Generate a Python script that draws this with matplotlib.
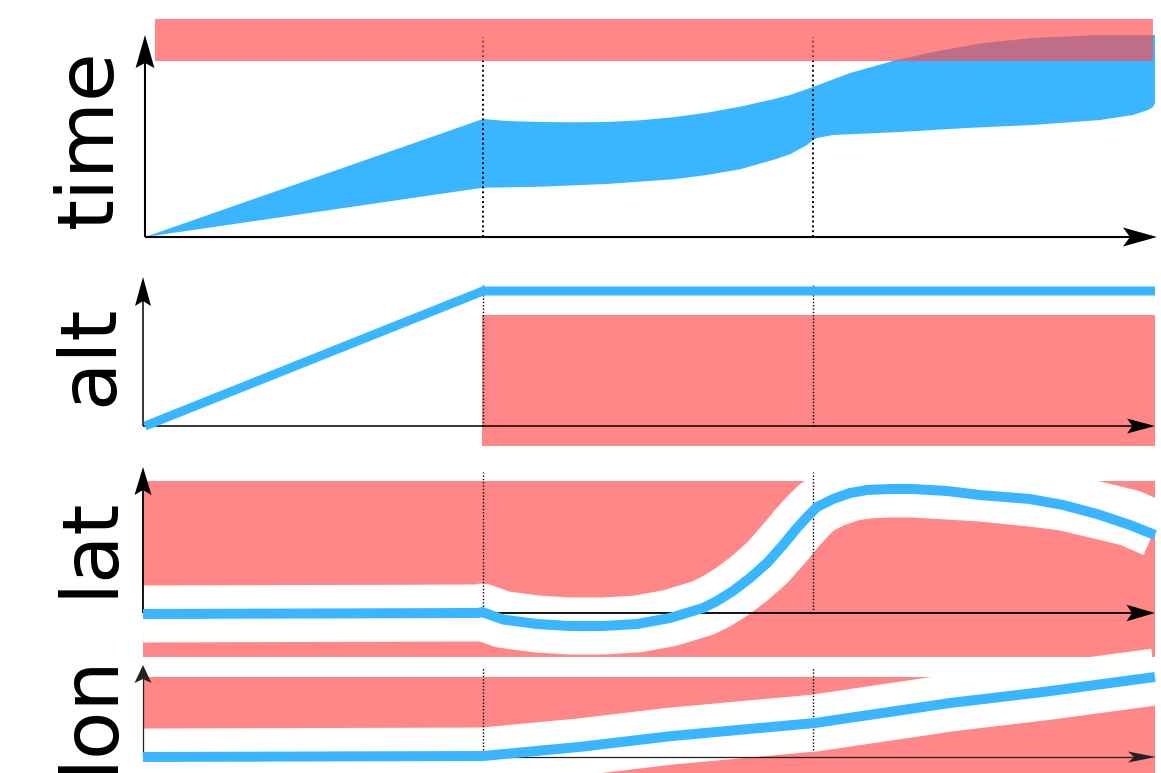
import numpy as np
import matplotlib
matplotlib.use('Agg')
import matplotlib.pyplot as plt
from matplotlib.patches import Polygon, Rectangle

# ---------------- data (track position t, panel value y) ----------------
checkpoints = [339, 669]

# time panel: envelope of possible times
time_upper_t = [1, 339, 363, 396, 429, 463, 496, 529, 563, 596, 629, 646, 669,
                706, 749, 789, 839, 889, 956, 1009, 1011]
time_upper_y = [0, 118, 116, 115, 114.7, 115, 116.7, 119.7, 124.3, 130.3, 137.7,
                142, 150, 164, 176, 185, 194, 199, 202, 202, 202]
time_lower_t = [1, 339, 396, 463, 529, 563, 596, 629, 646, 663, 669, 673, 689,
                756, 823, 889, 956, 989, 1004, 1009, 1011]
time_lower_y = [0, 49.3, 50.3, 53, 57.7, 62, 67.7, 77, 82.7, 92, 97, 99, 102,
                105, 109, 112, 117, 122, 127, 130, 134]
time_band = (11, 1009, 176, 218)   # forbidden time window (t0, t1, y0, y1)

# altitude panel
alt_t = [1, 339, 1011]
alt_y = [0, 135, 135]
alt_band = (338, 1011, -20, 111)

# latitude panel: trajectory and tolerance corridor centre
lat_t = [-1, 334, 338, 359, 393, 426, 459, 493, 526, 559, 573, 589, 606, 623,
         639, 653, 663, 673, 689, 706, 723, 746, 769, 803, 836, 886, 919, 953,
         986, 1011]
lat_y = [-1, 0, 1, -6.5, -11, -13, -13, -11, -5, 5, 12, 22, 35, 50, 68, 85, 96,
         106, 114, 120, 123, 124, 124, 122, 118, 114, 108, 99, 88, 78]
lat_tol_y = [-1, 0, 1, -6.5, -11, -13, -13, -11, -5, 5, 12, 22, 35, 50, 68, 85,
             96, 106, 114, 120, 123, 124, 124, 122, 120, 115, 111, 103, 95, 84]
lat_band = (-1, 1011, -44, 132)

# longitude panel
lon_t = [-1, 339, 435, 528, 671, 806, 899, 1011]
lon_y = [0, 1, 10, 21, 34, 54, 65, 80]
lon_band = (-1, 1011, -40, 80)

labels = ['time', 'alt', 'lat', 'lon']

# ---------------- style ----------------
W, H = 1161, 773
X0 = 144
BLUE = '#39B6FF'
RED = '#FF8787'
RED_OVER = '#FF4E4E'

fig = plt.figure(figsize=(W / 100, H / 100), dpi=100)


def make_panel(oy):
    ax = fig.add_axes([0, 0, 1, 1])
    ax.set_xlim(-X0, W - X0)
    ax.set_ylim(oy - H, oy)
    ax.axis('off')
    return ax


def axes_arrows(ax, x0, xtip, ytip, lw, color, hx, hy, z=5):
    Lx, wx, nx = hx
    Ly, wy, ny = hy
    ax.plot([x0, xtip - Lx + nx + 1], [0, 0], color=color, lw=lw,
            solid_capstyle='butt', zorder=z, clip_on=False)
    ax.plot([x0, x0], [0, ytip - Ly + ny + 1], color=color, lw=lw,
            solid_capstyle='butt', zorder=z, clip_on=False)
    ax.add_patch(Polygon([(xtip, 0), (xtip - Lx, wx), (xtip - Lx + nx, 0),
                          (xtip - Lx, -wx)], closed=True, color=color,
                         lw=0, zorder=z + 1, clip_on=False))
    ax.add_patch(Polygon([(x0, ytip), (x0 - wy, ytip - Ly), (x0, ytip - Ly + ny),
                          (x0 + wy, ytip - Ly)], closed=True, color=color,
                         lw=0, zorder=z + 1, clip_on=False))


def dotted(ax, y0, y1, lw, pattern, z=4):
    for c in checkpoints:
        ax.plot([c, c], [y0, y1], color='black', lw=lw,
                linestyle=(0, pattern), zorder=z, clip_on=False)


def label(ax, text, y):
    ax.text(-32, y, text, rotation=90, rotation_mode='anchor',
            ha='center', va='baseline', fontsize=57,
            family='DejaVu Sans', color='black')


def band(ax, b, color, alpha=1.0, z=1):
    t0, t1, y0, y1 = b
    ax.add_patch(Rectangle((t0, y0), t1 - t0, y1 - y0, facecolor=color,
                           edgecolor='none', alpha=alpha, zorder=z,
                           clip_on=False))


# ---------------- time ----------------
ax = make_panel(237)
poly_t = time_upper_t + time_lower_t[::-1]
poly_y = time_upper_y + time_lower_y[::-1]
ax.fill(poly_t, poly_y, color=BLUE, lw=0, zorder=2)
dotted(ax, 0, 200, 1.4, (1, 1.5), z=3)
axes_arrows(ax, 1, 1013, 202, 1.5, 'black', (34, 9.5, 7), (33, 9.4, 5), z=3)
band(ax, time_band, RED_OVER, alpha=0.68, z=6)
label(ax, labels[0], 98)

# ---------------- alt ----------------
ax = make_panel(426)
band(ax, alt_band, RED, z=1)
dotted(ax, 0, 141, 1.0, (1, 1.4), z=3)
axes_arrows(ax, -1, 1011, 149, 1.1, 'black', (28, 7.5, 5.5), (29, 8, 5), z=4)
ax.plot(alt_t, alt_y, color=BLUE, lw=6.5, solid_capstyle='butt',
        solid_joinstyle='miter', zorder=6, clip_on=False)
label(ax, labels[1], 71)

# ---------------- lat ----------------
ax = make_panel(613)
band(ax, lat_band, RED, z=1)
ax.plot(lat_t, lat_tol_y, color='white', lw=41, solid_capstyle='butt',
        solid_joinstyle='round', zorder=2, clip_on=False)
dotted(ax, 0, 141, 1.0, (1, 1.4), z=3)
axes_arrows(ax, -1, 1011, 146, 1.3, 'black', (28.5, 8.3, 5.5), (28, 8.5, 5), z=3)
ax.plot(lat_t, lat_y, color=BLUE, lw=7.2, solid_capstyle='butt',
        solid_joinstyle='round', zorder=6, clip_on=False)
label(ax, labels[2], 67)

# ---------------- lon ----------------
ax = make_panel(757)
band(ax, lon_band, RED, z=1)
ax.plot(lon_t, lon_y, color='white', lw=41, solid_capstyle='butt',
        solid_joinstyle='round', zorder=2, clip_on=False)
dotted(ax, 7, 89, 1.0, (1, 1.4), z=3)
axes_arrows(ax, -1, 1012, 92, 0.9, '#222222', (28, 5.5, 6), (18, 8.5, 4), z=3)
ax.plot(lon_t, lon_y, color=BLUE, lw=7.2, solid_capstyle='butt',
        solid_joinstyle='round', zorder=6, clip_on=False)
label(ax, labels[3], 44)

fig.savefig('out.png', dpi=100)
